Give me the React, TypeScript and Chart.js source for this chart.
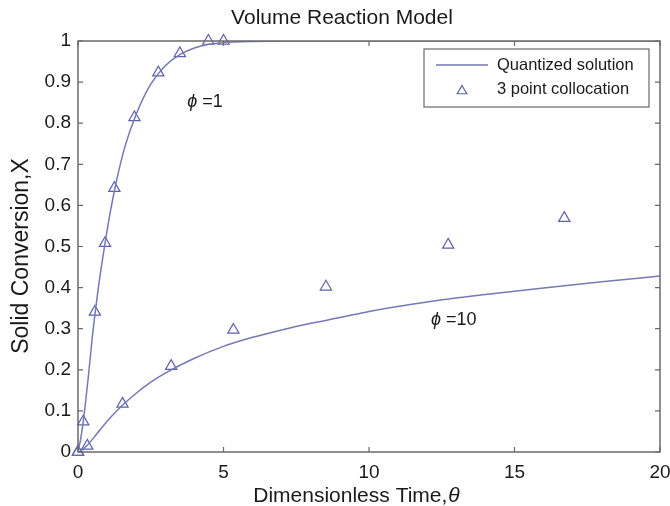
import { useEffect, useRef } from 'react';
import { Chart, registerables } from 'chart.js';

Chart.register(...registerables);

const chartTitle = 'Volume Reaction Model';
const xAxisTitle = 'Dimensionless Time,';
const xAxisSymbol = 'θ';
const yAxisTitle = 'Solid Conversion,X';
const legendLabels = ['Quantized solution', '3 point collocation'];

const xTicks = [0, 5, 10, 15, 20];
const yTicks = [0, 0.1, 0.2, 0.3, 0.4, 0.5, 0.6, 0.7, 0.8, 0.9, 1];

// Quantized solution, phi = 1
const phi1CurveTime = [0, 0.1, 0.2, 0.35, 0.5, 0.7, 0.9, 1.1, 1.3, 1.6, 2.0, 2.5, 3.0, 3.5, 4.0, 4.5, 5.0, 6.0, 7.0, 8.0, 10, 12, 14, 16, 18, 20];
const phi1CurveConv = [0, 0.035, 0.085, 0.18, 0.285, 0.4, 0.495, 0.58, 0.652, 0.74, 0.822, 0.895, 0.94, 0.967, 0.983, 0.992, 0.996, 0.999, 1.0, 1.0, 1.0, 1.0, 1.0, 1.0, 1.0, 1.0];

// Quantized solution, phi = 10
const phi10CurveTime = [0, 0.1, 0.3, 0.6, 1.0, 1.5, 2.0, 2.5, 3.0, 4.0, 5.0, 6.0, 7.0, 8.0, 9.0, 10, 12, 14, 16, 18, 20];
const phi10CurveConv = [0, 0.003, 0.015, 0.04, 0.075, 0.112, 0.143, 0.17, 0.192, 0.228, 0.257, 0.279, 0.297, 0.313, 0.327, 0.342, 0.365, 0.383, 0.399, 0.414, 0.428];

// 3 point collocation, phi = 1
const phi1ColTime = [0, 0.18, 0.58, 0.93, 1.25, 1.94, 2.76, 3.5, 4.48, 5.0];
const phi1ColConv = [0, 0.074, 0.341, 0.508, 0.642, 0.814, 0.923, 0.97, 1.0, 1.0];

// 3 point collocation, phi = 10
const phi10ColTime = [0, 0.32, 1.53, 3.2, 5.34, 8.52, 12.72, 16.71];
const phi10ColConv = [0, 0.015, 0.117, 0.209, 0.297, 0.402, 0.504, 0.569];

// Curve annotations (data coordinates)
const annotationSymbols = ['ϕ', 'ϕ'];
const annotationTexts = [' =1', ' =10'];
const annotationTime = [3.75, 12.13];
const annotationConv = [0.852, 0.321];

const FONT = "'Liberation Sans', Arial, Helvetica, sans-serif";
const lineColor = '#7579b5';
const markerColor = '#5d62a8';
const axisColor = '#6a6a6a';
const textColor = '#1a1a1a';

const toPoints = (xs: number[], ys: number[]) => xs.map((x, i) => ({ x, y: ys[i] }));

function drawTriangle(ctx: CanvasRenderingContext2D, x: number, y: number, r: number) {
  ctx.beginPath();
  let rad = 0;
  for (let i = 0; i < 3; i++) {
    const px = x + Math.sin(rad) * r;
    const py = y - Math.cos(rad) * r;
    if (i === 0) ctx.moveTo(px, py);
    else ctx.lineTo(px, py);
    rad += (2 * Math.PI) / 3;
  }
  ctx.closePath();
  ctx.stroke();
}

const decorPlugin = {
  id: 'decor',
  afterDatasetsDraw(chart: any) {
    const { ctx, chartArea: a, scales } = chart;
    const xs = scales.x;
    const ys = scales.y;
    ctx.save();
    ctx.strokeStyle = axisColor;
    ctx.lineWidth = 1.5;
    ctx.strokeRect(a.left, a.top, a.right - a.left, a.bottom - a.top);
    ctx.lineWidth = 1.2;
    const tl = 5;
    ctx.beginPath();
    xTicks.forEach((v) => {
      const px = xs.getPixelForValue(v);
      ctx.moveTo(px, a.bottom);
      ctx.lineTo(px, a.bottom - tl);
      ctx.moveTo(px, a.top);
      ctx.lineTo(px, a.top + tl);
    });
    yTicks.forEach((v) => {
      const py = ys.getPixelForValue(v);
      ctx.moveTo(a.left, py);
      ctx.lineTo(a.left + tl, py);
      ctx.moveTo(a.right, py);
      ctx.lineTo(a.right - tl, py);
    });
    ctx.stroke();
    ctx.restore();
  },
  afterDraw(chart: any) {
    const { ctx, scales } = chart;
    const xs = scales.x;
    const ys = scales.y;
    ctx.save();
    ctx.fillStyle = textColor;

    // title
    ctx.font = `21px ${FONT}`;
    ctx.textAlign = 'center';
    ctx.textBaseline = 'middle';
    ctx.fillText(chartTitle, 342, 18);

    // x axis title
    ctx.font = `21px ${FONT}`;
    const w1 = ctx.measureText(xAxisTitle).width;
    ctx.font = `italic 21px ${FONT}`;
    const w2 = ctx.measureText(xAxisSymbol).width;
    const startX = 356 - (w1 + w2) / 2;
    ctx.textAlign = 'left';
    ctx.font = `21px ${FONT}`;
    ctx.fillText(xAxisTitle, startX, 496);
    ctx.font = `italic 21px ${FONT}`;
    ctx.fillText(xAxisSymbol, startX + w1 + 1, 496);

    // y axis title
    ctx.save();
    ctx.translate(22, 256);
    ctx.rotate(-Math.PI / 2);
    ctx.font = `23px ${FONT}`;
    ctx.textAlign = 'center';
    ctx.textBaseline = 'middle';
    ctx.fillText(yAxisTitle, 0, 0);
    ctx.restore();

    // curve annotations
    annotationSymbols.forEach((sym, i) => {
      const px = xs.getPixelForValue(annotationTime[i]);
      const py = ys.getPixelForValue(annotationConv[i]);
      ctx.textAlign = 'left';
      ctx.textBaseline = 'middle';
      ctx.font = `italic 18px ${FONT}`;
      ctx.fillText(sym, px, py);
      const sw = ctx.measureText(sym).width;
      ctx.font = `18px ${FONT}`;
      ctx.fillText(annotationTexts[i], px + sw, py);
    });

    // legend
    const bx = 424, by = 49, bw = 225, bh = 58;
    ctx.fillStyle = '#ffffff';
    ctx.fillRect(bx, by, bw, bh);
    ctx.strokeStyle = axisColor;
    ctx.lineWidth = 1.2;
    ctx.strokeRect(bx, by, bw, bh);
    ctx.strokeStyle = lineColor;
    ctx.lineWidth = 1.5;
    ctx.beginPath();
    ctx.moveTo(436, 65);
    ctx.lineTo(488, 65);
    ctx.stroke();
    ctx.strokeStyle = markerColor;
    ctx.lineWidth = 1.2;
    drawTriangle(ctx, 462, 91, 5.5);
    ctx.fillStyle = textColor;
    ctx.font = `16.5px ${FONT}`;
    ctx.textAlign = 'left';
    ctx.textBaseline = 'middle';
    ctx.fillText(legendLabels[0], 497, 65);
    ctx.fillText(legendLabels[1], 497, 89);
    ctx.restore();
  },
};

export default function App() {
  const ref = useRef<HTMLCanvasElement | null>(null);
  useEffect(() => {
    if (!ref.current) return;
    const curveStyle = {
      showLine: true,
      borderColor: lineColor,
      borderWidth: 1.5,
      pointRadius: 0,
      pointHoverRadius: 0,
      cubicInterpolationMode: 'monotone' as const,
      fill: false,
    };
    const markerStyle = {
      showLine: false,
      pointStyle: 'triangle' as const,
      pointRadius: 6.5,
      pointBorderWidth: 1.2,
      borderColor: markerColor,
      pointBorderColor: markerColor,
      backgroundColor: 'rgba(0,0,0,0)',
      pointBackgroundColor: 'rgba(0,0,0,0)',
      clip: false as const,
    };
    const chart = new Chart(ref.current, {
      type: 'scatter',
      data: {
        datasets: [
          { label: legendLabels[0], data: toPoints(phi1CurveTime, phi1CurveConv), ...curveStyle },
          { label: legendLabels[0], data: toPoints(phi10CurveTime, phi10CurveConv), ...curveStyle },
          { label: legendLabels[1], data: toPoints(phi1ColTime, phi1ColConv), ...markerStyle },
          { label: legendLabels[1], data: toPoints(phi10ColTime, phi10ColConv), ...markerStyle },
        ],
      },
      options: {
        animation: false,
        responsive: false,
        layout: { padding: { top: 41, right: 10, left: 0, bottom: 0 } },
        plugins: {
          legend: { display: false },
          title: { display: false },
          tooltip: { enabled: false },
        },
        scales: {
          x: {
            type: 'linear',
            min: 0,
            max: 20,
            grid: { display: false, drawTicks: false },
            border: { display: false },
            afterBuildTicks: (s: any) => {
              s.ticks = xTicks.map((v) => ({ value: v }));
            },
            afterFit: (s: any) => {
              s.height = 54;
              s.paddingLeft = 0;
              s.paddingRight = 0;
            },
            ticks: {
              padding: 9,
              maxRotation: 0,
              color: textColor,
              font: { family: FONT, size: 19 },
            },
          },
          y: {
            type: 'linear',
            min: 0,
            max: 1,
            grid: { display: false, drawTicks: false },
            border: { display: false },
            afterBuildTicks: (s: any) => {
              s.ticks = yTicks.map((v) => ({ value: v }));
            },
            afterFit: (s: any) => {
              s.width = 78;
              s.paddingTop = 0;
              s.paddingBottom = 0;
            },
            ticks: {
              padding: 7,
              color: textColor,
              font: { family: FONT, size: 19 },
              callback: (v: any) => String(Math.round(Number(v) * 10) / 10),
            },
          },
        },
      },
      plugins: [decorPlugin],
    });
    return () => chart.destroy();
  }, []);
  return (
    <canvas
      ref={ref}
      width={670}
      height={506}
      style={{ display: 'block', position: 'absolute', left: 0, top: 0, background: '#ffffff' }}
    />
  );
}
